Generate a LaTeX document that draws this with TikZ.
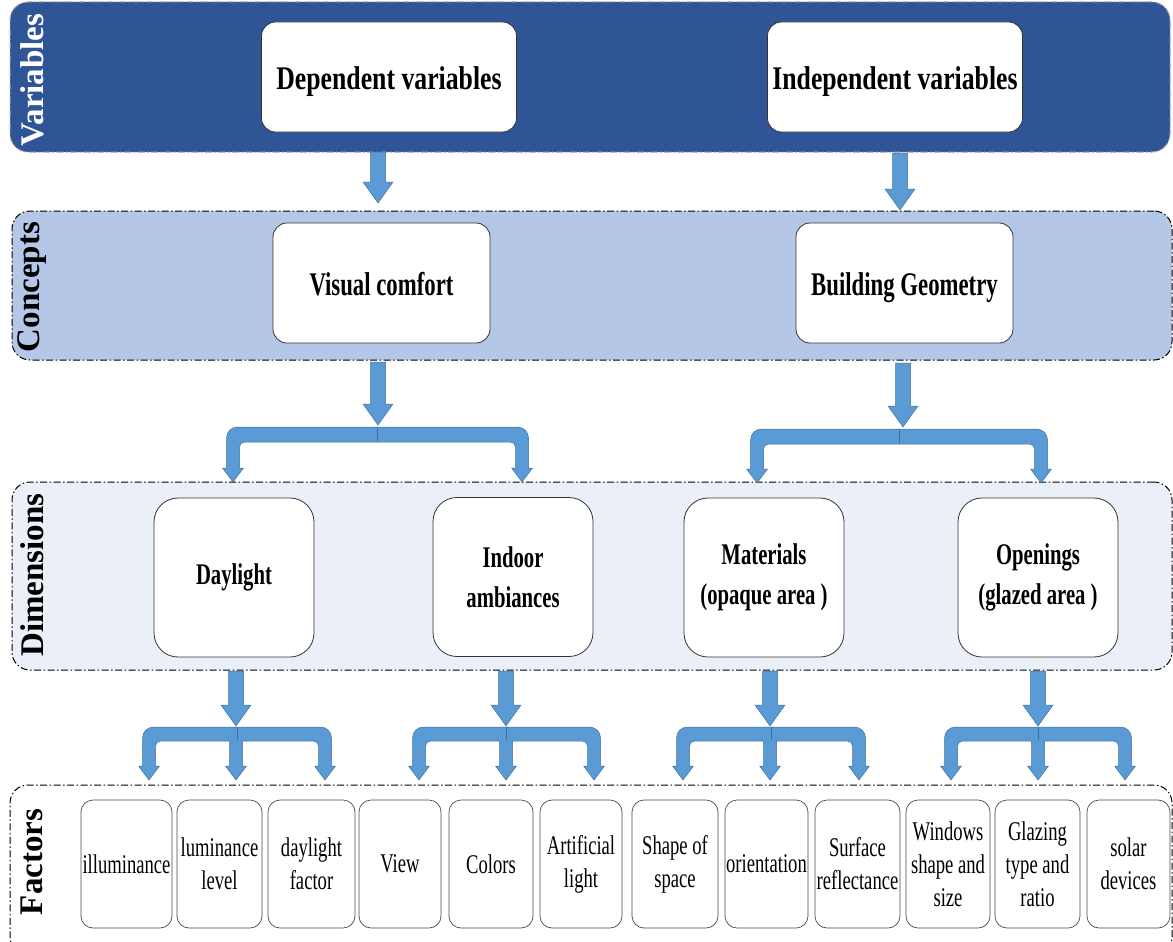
\documentclass[tikz,border=0pt]{standalone}
\usepackage{fontspec}
\setmainfont{Liberation Serif}
\newfontfamily\narrowfont[FakeStretch=0.78]{Liberation Serif}
\newfontfamily\condfont[FakeStretch=0.69]{Liberation Serif}
\usetikzlibrary{positioning}

\definecolor{varblue}{HTML}{2F5597}
\definecolor{conceptblue}{HTML}{B4C7E7}
\definecolor{dimblue}{HTML}{EAEFF8}
\definecolor{arrowfill}{HTML}{5B9BD5}
\definecolor{arrowedge}{HTML}{41719C}

\tikzset{
  band/.style={draw=black, line width=1pt, dash pattern=on 7pt off 2.5pt on 1.5pt off 2.5pt,
    rounded corners=18pt, inner sep=0pt},
  bandlabel/.style={rotate=90, inner sep=0pt, font=\fontsize{33}{35}\selectfont\bfseries},
  titlebox/.style={draw=black!80, fill=white, rounded corners=14pt, line width=0.8pt,
    inner sep=0pt, align=center},
  varbox/.style={titlebox, minimum width=255pt, minimum height=110pt,
    text height=25pt, text depth=0pt,
    font=\narrowfont\fontsize{33}{38}\selectfont\bfseries},
  conceptbox/.style={titlebox, minimum width=217pt, minimum height=120pt,
    text height=24pt, text depth=0pt,
    font=\condfont\fontsize{33}{38}\selectfont\bfseries},
  dimbox/.style={titlebox, rounded corners=24pt, minimum width=160pt, minimum height=159pt,
    font=\condfont\fontsize{30}{40}\selectfont\bfseries},
  factorbox/.style={draw=black!70, fill=white, rounded corners=12pt, line width=0.7pt,
    inner sep=0pt, align=center, minimum height=128pt,
    font=\condfont\fontsize{27}{33}\selectfont},
  blockarrow/.style={fill=arrowfill, draw=arrowedge, line width=0.5pt, line join=round}
}

% straight block arrow: x, top, tip
\newcommand{\downblock}[3]{%
  \filldraw[blockarrow] (#1-7.5,#2) -- (#1+7.5,#2) -- (#1+7.5,#3-21) -- (#1+15,#3-21)
    -- (#1,#3) -- (#1-15,#3-21) -- (#1-7.5,#3-21) -- cycle;}
% bent bracket arrow: left x, right x, bar top, bar bottom, head base, tip
\newcommand{\forkblock}[6]{%
  \filldraw[blockarrow] (#1-6.5,#5) [rounded corners=11pt] -- (#1-6.5,#3) -- (#2+6.5,#3)
    [sharp corners] -- (#2+6.5,#5) -- (#2+10.5,#5) -- (#2,#6) -- (#2-10.5,#5) -- (#2-6.5,#5)
    [rounded corners=5pt] -- (#2-6.5,#4) -- (#1+6.5,#4) [sharp corners] -- (#1+6.5,#5)
    -- (#1+10.5,#5) -- (#1,#6) -- (#1-10.5,#5) -- cycle;
  \draw[arrowedge, line width=0.5pt] ({(#1+#2)/2},#3) -- ({(#1+#2)/2},#4);}
% middle branch: x, top, head base, tip
\newcommand{\midblock}[4]{%
  \fill[arrowfill] (#1-6.5,#2-1) -- (#1+6.5,#2-1) -- (#1+6.5,#3) -- (#1+10.5,#3)
    -- (#1,#4) -- (#1-10.5,#3) -- (#1-6.5,#3) -- cycle;
  \draw[arrowedge, line width=0.5pt, line join=round] (#1+6.5,#2) -- (#1+6.5,#3) -- (#1+10.5,#3)
    -- (#1,#4) -- (#1-10.5,#3) -- (#1-6.5,#3) -- (#1-6.5,#2);}

\begin{document}
\begin{tikzpicture}[x=1pt, y=-1pt]
\useasboundingbox (0,0) rectangle (1173,942);

% bands
\node[band, draw=black!35, fill=varblue, minimum width=1160pt, minimum height=150pt] (varband) at (590,77) {};
\node[band, fill=conceptblue, minimum width=1160pt, minimum height=149pt] (conband) at (592,285.5) {};
\node[band, fill=dimblue, minimum width=1160pt, minimum height=188pt] (dimband) at (592,576) {};
\node[band, fill=white, minimum width=1162pt, minimum height=170pt] (facband) at (591,870) {};

\node[bandlabel, text=white] (varlbl) at (32,80) {Variables};
\node[bandlabel] (conlbl) at (32,287) {Concepts};
\node[bandlabel] (dimlbl) at (32,575) {Dimensions};
\node[bandlabel] (faclbl) at (32,862) {Factors};

% variables and concepts
\node[varbox] (dep) at (389,77) {Dependent variables};
\node[varbox] (indep) at (895,77) {Independent variables};
\node[conceptbox] (visual) at (381.5,283) {Visual comfort};
\node[conceptbox] (geom) at (904.5,283) {Building Geometry};

% dimensions
\node[dimbox] (daylight) at (234,577.5) {Daylight};
\node[dimbox] (indoor) at (513,577) {Indoor\\ambiances};
\node[dimbox] (materials) at (764,577.5) {Materials\\(opaque area )};
\node[dimbox] (openings) at (1038,577.5) {Openings\\(glazed area )};

% factors
\foreach \n/\x/\w/\t in {illum/126.5/91/{illuminance}, lumin/219.5/85/{luminance\\level},
    dlf/311.5/87/{daylight\\factor}, view/400/82/{View}, colors/491/84/{Colors},
    artif/581/82/{Artificial\\light}, shape/675/86/{Shape of\\space},
    orient/766.5/83/{orientation}, surf/857.5/85/{Surface\\reflectance},
    windows/948/84/{Windows\\shape and\\size}, glazing/1037.5/85/{Glazing\\type and\\ratio},
    solar/1128.5/83/{solar\\devices}}
  \node[factorbox, minimum width=\w pt] (\n) at (\x,864) {\t};

% arrows between levels
\downblock{378}{152}{203}
\downblock{900}{153}{210}

\downblock{378}{362}{425}
\forkblock{233}{522}{427}{442}{468}{482}
\downblock{903}{363}{427}
\forkblock{757}{1041}{429}{444}{469}{483}

\foreach \l/\m/\r in {149/236/325, 419/506/594, 683/770/859, 951/1038/1125} {
  \downblock{\m}{671}{726}
  \forkblock{\l}{\r}{727}{741}{766}{780}
  \midblock{\m}{741}{766}{780}
}
\end{tikzpicture}
\end{document}
